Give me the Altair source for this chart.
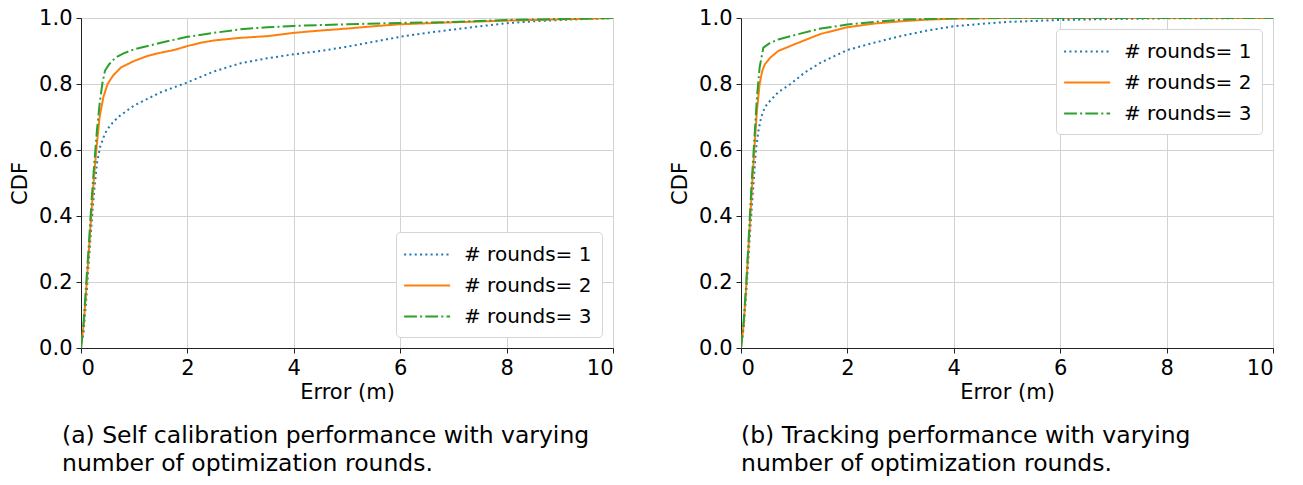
import altair as alt
import pandas as pd

# CDF of localisation error (m) for 1, 2 and 3 optimisation rounds
SERIES = ["# rounds= 1", "# rounds= 2", "# rounds= 3"]
COLORS = ["#1f77b4", "#ff7f0e", "#2ca02c"]
DASHES = [[2, 3.3], [1, 0], [12.8, 3.2, 2, 3.2]]

# (a) self calibration
calib_r1_x = [0, 0.05, 0.1, 0.15, 0.2, 0.25, 0.3, 0.36, 0.45, 0.55, 0.7, 1.0, 1.5, 2.0, 2.5,
              3.0, 3.5, 4.0, 4.5, 5.0, 5.5, 6.0, 6.5, 7.0, 7.5, 8.0, 8.5, 9.0, 9.5, 10]
calib_r1_y = [0, 0.05, 0.15, 0.27, 0.38, 0.48, 0.56, 0.61, 0.65, 0.675, 0.70, 0.735, 0.775, 0.805, 0.838,
              0.863, 0.878, 0.89, 0.90, 0.913, 0.928, 0.943, 0.955, 0.965, 0.975, 0.984, 0.99, 0.994, 0.997, 1.0]
calib_r2_x = [0, 0.05, 0.1, 0.15, 0.2, 0.25, 0.3, 0.35, 0.42, 0.5, 0.6, 0.75, 1.0, 1.25, 1.5,
              1.75, 2.0, 2.25, 2.5, 3.0, 3.5, 4.0, 4.5, 5.0, 5.5, 6.0, 7.0, 8.0, 9.0, 10]
calib_r2_y = [0, 0.07, 0.18, 0.30, 0.42, 0.53, 0.62, 0.70, 0.76, 0.80, 0.825, 0.85, 0.87, 0.885, 0.895,
              0.903, 0.915, 0.925, 0.932, 0.94, 0.945, 0.955, 0.962, 0.968, 0.975, 0.981, 0.987, 0.992, 0.996, 1.0]
calib_r3_x = [0, 0.05, 0.1, 0.15, 0.2, 0.25, 0.3, 0.35, 0.4, 0.45, 0.53, 0.65, 0.8, 1.0, 1.5,
              2.0, 2.5, 3.0, 3.5, 4.0, 5.0, 6.0, 7.0, 8.0, 9.0, 10]
calib_r3_y = [0, 0.08, 0.20, 0.32, 0.45, 0.56, 0.66, 0.74, 0.80, 0.84, 0.86, 0.88, 0.893, 0.905, 0.925,
              0.943, 0.955, 0.966, 0.972, 0.976, 0.981, 0.985, 0.988, 0.994, 0.997, 1.0]

# (b) tracking
track_r1_x = [0, 0.05, 0.1, 0.15, 0.2, 0.25, 0.28, 0.33, 0.38, 0.45, 0.55, 0.7, 0.93, 1.2, 1.5,
              2.0, 2.5, 3.0, 3.5, 4.0, 4.5, 5.0, 6.0, 7.0, 8.0, 10]
track_r1_y = [0, 0.06, 0.17, 0.30, 0.42, 0.53, 0.60, 0.66, 0.70, 0.73, 0.75, 0.775, 0.80, 0.835, 0.865,
              0.903, 0.925, 0.945, 0.962, 0.975, 0.982, 0.988, 0.994, 0.997, 0.999, 1.0]
track_r2_x = [0, 0.05, 0.1, 0.15, 0.2, 0.25, 0.3, 0.35, 0.4, 0.45, 0.55, 0.7, 1.0, 1.5, 2.0,
              2.5, 3.0, 3.5, 4.0, 5.0, 10]
track_r2_y = [0, 0.07, 0.19, 0.33, 0.47, 0.60, 0.72, 0.80, 0.84, 0.86, 0.88, 0.90, 0.92, 0.952, 0.972,
              0.983, 0.99, 0.995, 0.998, 1.0, 1.0]
track_r3_x = [0, 0.05, 0.1, 0.15, 0.2, 0.25, 0.3, 0.35, 0.42, 0.55, 0.7, 1.0, 1.5, 2.0, 2.5,
              3.0, 4.0, 5.0, 10]
track_r3_y = [0, 0.08, 0.20, 0.35, 0.50, 0.63, 0.76, 0.85, 0.91, 0.925, 0.935, 0.948, 0.968, 0.98, 0.988,
              0.995, 0.999, 1.0, 1.0]

FONT = "DejaVu Sans"


def frame(curves):
    rows = []
    for name, (xs, ys) in zip(SERIES, curves):
        for i, (x, y) in enumerate(zip(xs, ys)):
            rows.append({"series": name, "order": i, "error": x, "cdf": y})
    return pd.DataFrame(rows)


def panel(df, caption, caption_dx, legend_x, legend_y):
    # long horizontal line sample, drawn to the right of the symbol's nominal centre
    leg = alt.Legend(
        title=None, orient="none", legendX=legend_x, legendY=legend_y,
        symbolType="M-1.25,0H2.75", symbolStrokeWidth=2, symbolSize=529,
        symbolFillColor="transparent",
        labelFont=FONT, labelFontSize=20, labelColor="black", labelOffset=33,
        rowPadding=8, padding=10, fillColor="white", strokeColor="#d5d5d5",
        cornerRadius=4,
    )
    return alt.Chart(df).mark_line(strokeWidth=2, clip=True).encode(
        x=alt.X("error:Q", title="Error (m)", scale=alt.Scale(domain=[0, 10], nice=False),
                axis=alt.Axis(values=[0, 2, 4, 6, 8, 10], format="d")),
        y=alt.Y("cdf:Q", title="CDF", scale=alt.Scale(domain=[0, 1], nice=False),
                axis=alt.Axis(values=[0, 0.2, 0.4, 0.6, 0.8, 1.0], format=".1f")),
        color=alt.Color("series:N", scale=alt.Scale(domain=SERIES, range=COLORS), legend=leg),
        strokeDash=alt.StrokeDash("series:N", scale=alt.Scale(domain=SERIES, range=DASHES), legend=leg),
        order="order:Q",
    ).properties(
        width=532, height=330,
        title=alt.TitleParams(
            text=caption, orient="bottom", anchor="start", frame="group", dx=caption_dx,
            font=FONT, fontSize=23.5, fontWeight="normal", color="black", lineHeight=28, offset=22,
        ),
    )


left = panel(
    frame([(calib_r1_x, calib_r1_y), (calib_r2_x, calib_r2_y), (calib_r3_x, calib_r3_y)]),
    ["(a) Self calibration performance with varying", "number of optimization rounds."],
    -19, 315, 214,
)
right = panel(
    frame([(track_r1_x, track_r1_y), (track_r2_x, track_r2_y), (track_r3_x, track_r3_y)]),
    ["(b) Tracking performance with varying", "number of optimization rounds."],
    0, 315, 11,
)

chart = alt.hconcat(left, right, spacing=128, bounds="flush").resolve_scale(
    color="independent", strokeDash="independent"
).resolve_legend(
    color="independent", strokeDash="independent"
).properties(
    padding={"left": 9, "top": 6, "right": 5, "bottom": 5}
).configure_view(
    stroke="#222", strokeWidth=1
).configure_axis(
    labelFont=FONT, labelFontSize=21, labelColor="black", labelPadding=4,
    titleFont=FONT, titleFontSize=21, titleFontWeight="normal", titleColor="black",
    domainColor="#222", tickColor="#222", tickSize=5,
    gridColor="#d3d3d3", gridWidth=1,
).configure_axisX(titlePadding=3).configure_axisY(titlePadding=8)

chart.save("out.html", embed_options={"renderer": "svg", "actions": False})
